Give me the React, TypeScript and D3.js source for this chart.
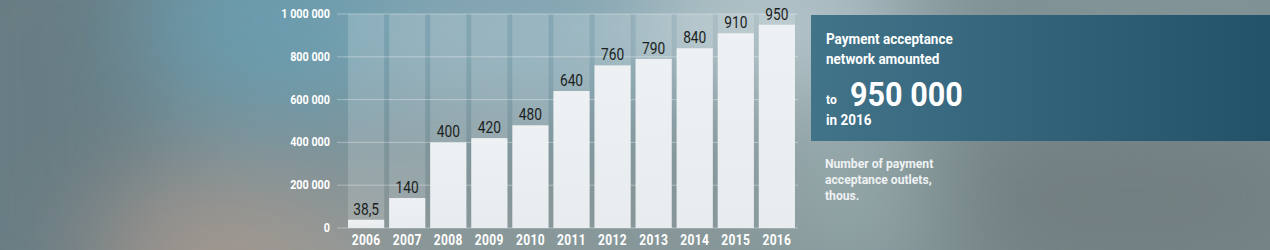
import React from "react";
import * as d3 from "d3";

const years = ["2006", "2007", "2008", "2009", "2010", "2011", "2012", "2013", "2014", "2015", "2016"];
const valuesThous = [38.5, 140, 400, 420, 480, 640, 760, 790, 840, 910, 950];
const valueLabels = ["38,5", "140", "400", "420", "480", "640", "760", "790", "840", "910", "950"];
const yTicks = [0, 200000, 400000, 600000, 800000, 1000000];
const headlineLines = ["Payment acceptance", "network amounted"];
const headlineNumber = "950 000";
const captionLines = ["Number of payment", "acceptance outlets,", "thous."];

const W = 1270;
const H = 250;

const fmt = (v: number) => d3.format(",")(v).replace(/,/g, " ");

export default function App() {
  const x = d3.scaleBand<string>().domain(years).range([346, 797]).paddingInner(0.12).paddingOuter(0.05);
  const y = d3.scaleLinear().domain([0, 1000000]).range([228, 14]);
  const font = "Roboto, 'Noto Sans', sans-serif";

  return (
    <div style={{ position: "fixed", left: 0, top: 0, width: W, height: H }}>
      <svg width={W} height={H} style={{ display: "block" }}>
        <defs>
          <filter id="blur" x="-50%" y="-50%" width="200%" height="200%">
            <feGaussianBlur stdDeviation="55" />
          </filter>
          <linearGradient id="panel" x1="0" x2="1" y1="0" y2="0">
            <stop offset="0" stopColor="#417389" />
            <stop offset="1" stopColor="#22526a" />
          </linearGradient>
          <linearGradient id="bar" x1="0" x2="0" y1="0" y2="1">
            <stop offset="0" stopColor="#eef1f3" />
            <stop offset="1" stopColor="#e8ecee" />
          </linearGradient>
          <clipPath id="clipAll">
            <rect x={0} y={0} width={W} height={H} />
          </clipPath>
        </defs>
        <g clipPath="url(#clipAll)">
          <rect x={0} y={0} width={W} height={H} fill="#7a8c90" />
          <g filter="url(#blur)">
            <rect x={-100} y={-100} width={260} height={450} fill="#677d83" />
            <ellipse cx={300} cy={20} rx={160} ry={110} fill="#6a9cae" />
            <ellipse cx={260} cy={260} rx={170} ry={70} fill="#a89a90" />
            <ellipse cx={560} cy={30} rx={200} ry={90} fill="#86aab8" />
            <ellipse cx={780} cy={20} rx={140} ry={90} fill="#b6c8cd" />
            <ellipse cx={880} cy={200} rx={120} ry={70} fill="#9aadae" />
            <ellipse cx={1130} cy={200} rx={220} ry={90} fill="#717e80" />
            <ellipse cx={1150} cy={10} rx={200} ry={50} fill="#85979a" />
            <ellipse cx={560} cy={240} rx={260} ry={50} fill="#909e9f" />
          </g>

          {/* column backgrounds */}
          {years.map((yr) => (
            <rect key={"c" + yr} x={x(yr)} y={y(1000000)} width={x.bandwidth()} height={y(0) - y(1000000)} fill="#ffffff" opacity={0.17} />
          ))}

          {/* gridlines */}
          {yTicks.map((t) => (
            <line key={"g" + t} x1={337} x2={798} y1={y(t)} y2={y(t)} stroke="#ffffff" strokeOpacity={0.35} strokeWidth={1} />
          ))}

          {/* bars */}
          {years.map((yr, i) => (
            <rect key={"b" + yr} x={x(yr)} y={y(valuesThous[i] * 1000)} width={x.bandwidth()} height={y(0) - y(valuesThous[i] * 1000)} fill="url(#bar)" />
          ))}

          {/* value labels */}
          {years.map((yr, i) => (
            <g key={"v" + yr} transform={`translate(${(x(yr) as number) + x.bandwidth() / 2},${y(valuesThous[i] * 1000) - 5}) scale(0.86,1)`}>
              <text textAnchor="middle" fontFamily={font} fontSize={16} fill="#1c1f22">
                {valueLabels[i]}
              </text>
            </g>
          ))}

          {/* y tick labels */}
          {yTicks.map((t) => (
            <g key={"t" + t} transform={`translate(330,${y(t) + 4}) scale(0.9,1)`}>
              <text textAnchor="end" fontFamily={font} fontSize={12} fontWeight={700} fill="#ffffff">
                {fmt(t)}
              </text>
            </g>
          ))}

          {/* x labels */}
          {years.map((yr) => (
            <g key={"x" + yr} transform={`translate(${(x(yr) as number) + x.bandwidth() / 2},245) scale(0.86,1)`}>
              <text textAnchor="middle" fontFamily={font} fontSize={14} fontWeight={700} fill="#ffffff" letterSpacing={0.4}>
                {yr}
              </text>
            </g>
          ))}

          {/* panel */}
          <rect x={811} y={15} width={W - 811} height={126} fill="url(#panel)" />
          {headlineLines.map((l, i) => (
            <g key={"h" + i} transform={`translate(826,${44 + i * 20}) scale(0.9,1)`}>
              <text fontFamily={font} fontSize={15} fontWeight={700} fill="#ffffff">
                {l}
              </text>
            </g>
          ))}
          <text x={826} y={104} fontFamily={font} fontSize={12} fontWeight={700} fill="#ffffff">to</text>
          <g transform="translate(850,106) scale(0.9,1)">
            <text fontFamily={font} fontSize={34} fontWeight={700} fill="#ffffff">{headlineNumber}</text>
          </g>
          <g transform="translate(826,125) scale(0.9,1)">
            <text fontFamily={font} fontSize={15} fontWeight={700} fill="#ffffff">in 2016</text>
          </g>

          {captionLines.map((l, i) => (
            <g key={"cap" + i} transform={`translate(825,${168 + i * 16}) scale(0.9,1)`}>
              <text fontFamily={font} fontSize={13.5} fontWeight={700} fill="#eef2f3">
                {l}
              </text>
            </g>
          ))}
        </g>
      </svg>
    </div>
  );
}
